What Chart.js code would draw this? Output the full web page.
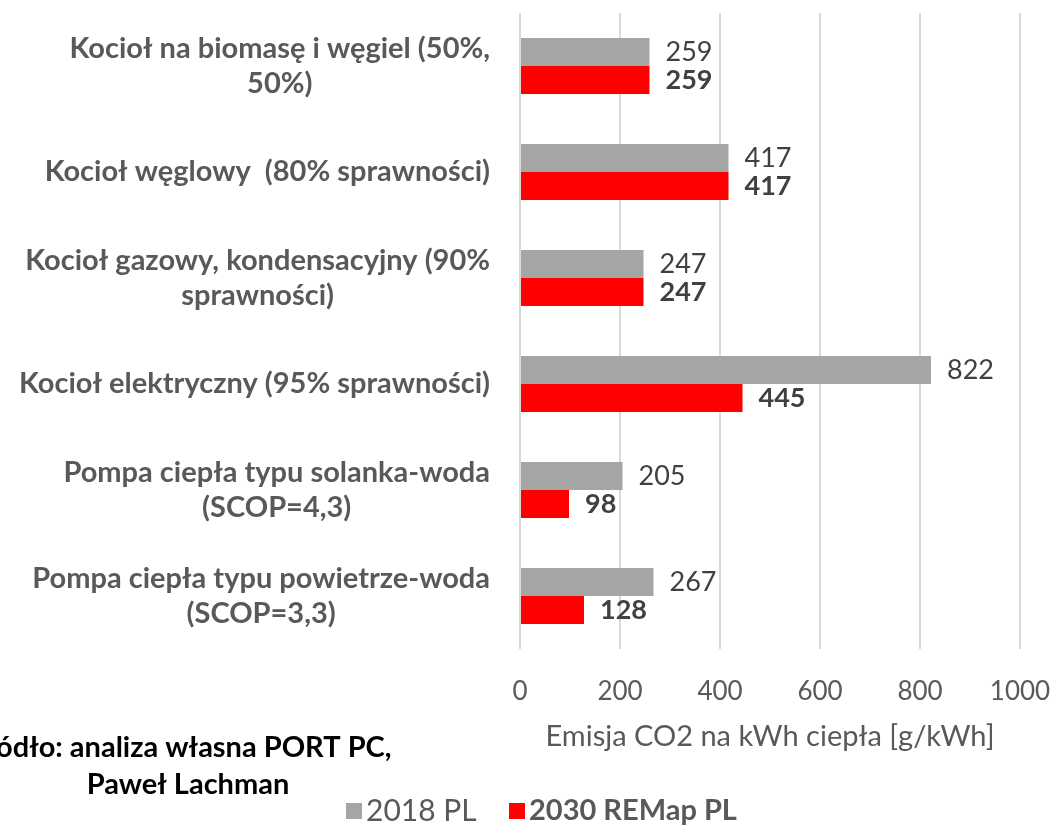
<!DOCTYPE html>
<html>
<head>
<meta charset="utf-8">
<script src="https://cdn.jsdelivr.net/npm/chart.js@4"></script>
<style>
    html, body { margin: 0; padding: 0; background: #fff; }
    #wrap { width: 1055px; height: 827px; }
</style>
</head>
<body>
<div id="wrap"><canvas id="chart" width="1055" height="827"></canvas></div>
<script>
// chart data
const categories = [
    ['Kocioł na biomasę i węgiel (50%,', '50%)'],
    ['Kocioł węglowy  (80% sprawności)'],
    ['Kocioł gazowy, kondensacyjny (90%', 'sprawności)'],
    ['Kocioł elektryczny (95% sprawności)'],
    ['Pompa ciepła typu solanka-woda', '(SCOP=4,3)'],
    ['Pompa ciepła typu powietrze-woda', '(SCOP=3,3)']
];
const series2018 = [259, 417, 247, 822, 205, 267];
const series2030 = [259, 417, 247, 445, 98, 128];
const seriesNames = ['2018 PL', '2030 REMap PL'];
const seriesColors = ['#a5a5a5', '#ff0000'];
const xTickValues = [0, 200, 400, 600, 800, 1000];
const axisTitle = 'Emisja CO2 na kWh ciepła [g/kWh]';
const sourceLines = ['Źródło: analiza własna PORT PC,', 'Paweł Lachman'];

const FONT = 'Lato';

// draws category labels, value labels, legend and source note
const overlayPlugin = {
    id: 'overlay',
    afterDatasetsDraw(chart) {
        const ctx = chart.ctx;
        const yScale = chart.scales.y;
        ctx.save();
        ctx.textBaseline = 'middle';

        // category labels (centered lines, block right aligned)
        ctx.fillStyle = '#595959';
        ctx.font = 'bold 29px ' + FONT;
        ctx.textAlign = 'center';
        categories.forEach((lines, i) => {
            const cy = yScale.getPixelForValue(i);
            const w = Math.max(...lines.map(l => ctx.measureText(l).width));
            const cx = 490 - w / 2;
            lines.forEach((l, j) => {
                ctx.fillText(l, cx, cy + (j - (lines.length - 1) / 2) * 35);
            });
        });

        // value labels
        ctx.textAlign = 'left';
        ctx.fillStyle = '#404040';
        chart.data.datasets.forEach((ds, di) => {
            ctx.font = (di === 1 ? 'bold ' : '') + '27px ' + FONT;
            chart.getDatasetMeta(di).data.forEach((bar, i) => {
                ctx.fillText(String(ds.data[i]), bar.x + 16, bar.y);
            });
        });

        // legend
        const legendY = 811;
        const legendX = [346, 509];
        seriesNames.forEach((name, i) => {
            ctx.fillStyle = seriesColors[i];
            ctx.fillRect(legendX[i], legendY - 8, 16, 16);
            ctx.fillStyle = '#595959';
            ctx.font = (i === 1 ? 'bold 29px ' : '30px ') + FONT;
            ctx.fillText(name, legendX[i] + 20, legendY);
        });

        // source note
        ctx.fillStyle = '#000000';
        ctx.font = 'bold 29px ' + FONT;
        ctx.textAlign = 'center';
        ctx.fillText(sourceLines[0], 180, 748);
        ctx.fillText(sourceLines[1], 188, 785);

        ctx.restore();
    }
};

new Chart(document.getElementById('chart'), {
    type: 'bar',
    data: {
        labels: categories,
        datasets: [
            { label: seriesNames[0], data: series2018, backgroundColor: seriesColors[0] },
            { label: seriesNames[1], data: series2030, backgroundColor: seriesColors[1] }
        ]
    },
    options: {
        responsive: false,
        animation: false,
        indexAxis: 'y',
        datasets: { bar: { categoryPercentage: 0.53, barPercentage: 1 } },
        layout: { padding: { top: 13, right: 35, left: 0, bottom: 73 } },
        plugins: {
            legend: { display: false },
            tooltip: { enabled: false }
        },
        scales: {
            x: {
                min: 0,
                max: 1000,
                afterBuildTicks: s => { s.ticks = xTickValues.map(v => ({ value: v })); },
                afterFit: s => { s.height = 105; s.paddingLeft = 0; s.paddingRight = 0; },
                ticks: {
                    color: '#595959',
                    font: { family: FONT, size: 26 },
                    padding: 27,
                    callback: v => String(v)
                },
                grid: { color: '#d9d9d9', lineWidth: 2, drawTicks: false },
                border: { display: false },
                title: {
                    display: true,
                    text: axisTitle,
                    color: '#595959',
                    font: { family: FONT, size: 29 },
                    padding: { top: 18, bottom: 0 }
                }
            },
            y: {
                ticks: { display: false },
                grid: { display: false },
                border: { display: false },
                afterFit: s => { s.width = 520; }
            }
        }
    },
    plugins: [overlayPlugin]
});
</script>
</body>
</html>
